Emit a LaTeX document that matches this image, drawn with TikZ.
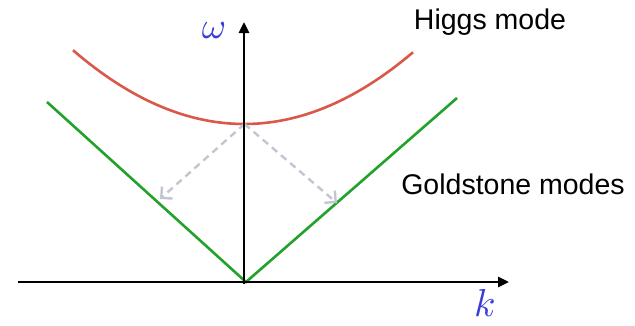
\documentclass[tikz,border=0pt]{standalone}
\usepackage{fontspec}
\setmainfont{Liberation Sans}
\usetikzlibrary{arrows.meta}
\definecolor{higgsred}{HTML}{D9584A}
\definecolor{gsgreen}{HTML}{22A22A}
\definecolor{dashgray}{HTML}{C2C6D0}
\definecolor{labblue}{HTML}{3A3ED8}
\tikzset{
  axisline/.style={line width=2.6pt,-{Triangle[length=11pt,width=10pt]}},
  gsline/.style={gsgreen,line width=2.6pt},
  higgsline/.style={higgsred,line width=2.6pt},
  dasharrow/.style={dashgray,line width=2.4pt,dash pattern=on 7pt off 5pt,-{Straight Barb[length=8pt,width=16pt]}},
  lab/.style={inner sep=0pt,font=\fontsize{28.5}{28.5}\selectfont},
  mathlab/.style={inner sep=0pt,text=labblue}
}
\begin{document}
\begin{tikzpicture}[x=1pt,y=-1pt]
\useasboundingbox (0,0) rectangle (635,325);
\coordinate (o) at (246,282);
\coordinate (xl) at (18,282);
\coordinate (xr) at (509,282);
\coordinate (yb) at (244,284);
\coordinate (yt) at (244,22);
\coordinate (gl) at (47,102);
\coordinate (gr) at (457,98);
\coordinate (v) at (244.5,124);
\coordinate (tl) at (160,199);
\coordinate (tr) at (337,203);
\draw[gsline] (gl) -- (o) -- (gr);
\draw[higgsline] plot[domain=73:413,samples=80,smooth] (\x,{124-0.002525*(\x-244.2)*(\x-244.2)});
\draw[dasharrow] (v) -- (tl);
\draw[dasharrow] (v) -- (tr);
\draw[axisline] (xl) -- (xr);
\draw[axisline] (yb) -- (yt);
\node[mathlab] (w) at (214,31) {\scalebox{3.7}{$\omega$}};
\node[mathlab] (k) at (485,303) {\scalebox{3.9}{$k$}};
\node[lab] (h) at (490,22) {Higgs mode};
\node[lab] (g) at (513,184) {Goldstone modes};
\end{tikzpicture}
\end{document}
